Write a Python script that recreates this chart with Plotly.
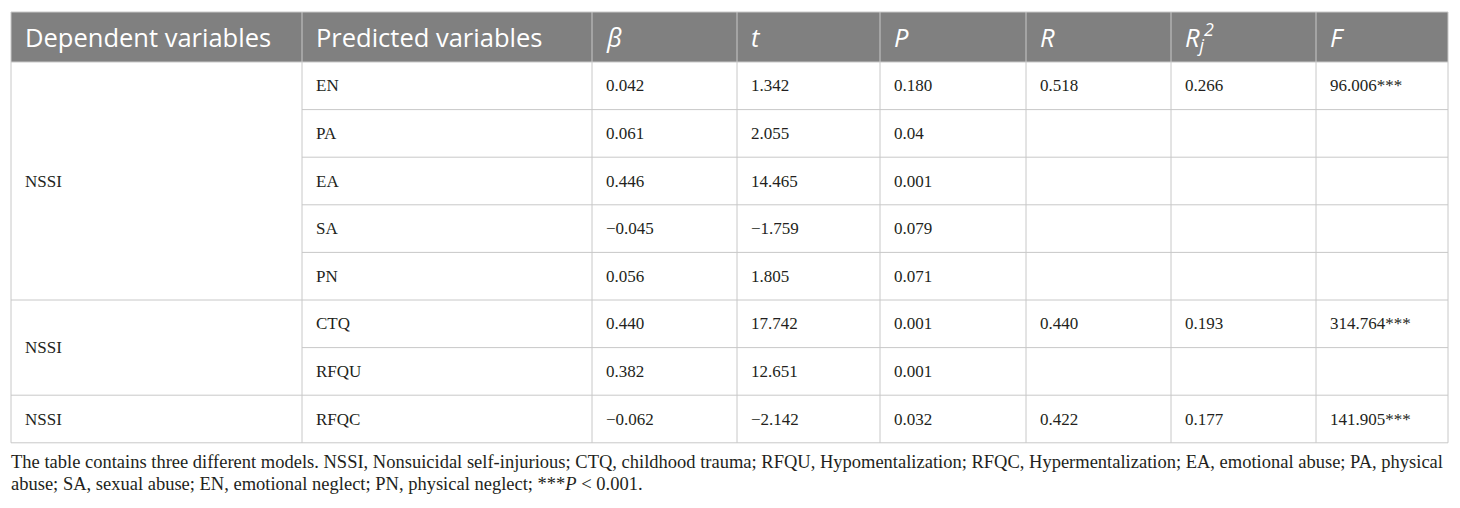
import plotly.graph_objects as go

# column headers
headers = ["Dependent variables", "Predicted variables", "<i>β</i>", "<i>t</i>", "<i>P</i>",
           "<i>R</i>", "<i>R<sub>j</sub><sup>2</sup></i>", "<i>F</i>"]

# models: dependent variable and how many predictor rows each spans
dependents = ["NSSI", "NSSI", "NSSI"]
group_sizes = [5, 2, 1]

predictors = ["EN", "PA", "EA", "SA", "PN", "CTQ", "RFQU", "RFQC"]
beta = ["0.042", "0.061", "0.446", "\u22120.045", "0.056", "0.440", "0.382", "\u22120.062"]
t_vals = ["1.342", "2.055", "14.465", "\u22121.759", "1.805", "17.742", "12.651", "\u22122.142"]
p_vals = ["0.180", "0.04", "0.001", "0.079", "0.071", "0.001", "0.001", "0.032"]
r_vals = ["0.518", "", "", "", "", "0.440", "", "0.422"]
rj2_vals = ["0.266", "", "", "", "", "0.193", "", "0.177"]
f_vals = ["96.006***", "", "", "", "", "314.764***", "", "141.905***"]

footnote_lines = [
    "The table contains three different models. NSSI, Nonsuicidal self-injurious; CTQ, childhood trauma; "
    "RFQU, Hypomentalization; RFQC, Hypermentalization; EA, emotional abuse; PA, physical",
    "abuse; SA, sexual abuse; EN, emotional neglect; PN, physical neglect; ***<i>P</i> &lt; 0.001.",
]

# layout geometry (page pixels; the page body adds an 8px margin)
W, H, off = 1444, 492, 8
col_edges = [11, 302, 592, 737, 880, 1026, 1171, 1316, 1448]
top, head_h, row_h = 12, 50, 47.6
pad = 12
line_col = "#c8c8c8"
head_bg = "#808080"
body_font = dict(family="Liberation Serif", size=17, color="#231f20")
head_font = dict(family="Open Sans", size=25.5, color="white")
foot_font = dict(family="Liberation Serif", size=18.5, color="#231f20")

n_rows = len(predictors)
row_edges = [top + head_h + i * row_h for i in range(n_rows + 1)]
bottom = row_edges[-1]

fig = go.Figure()
shapes = []
annotations = []

# header background
shapes.append(dict(type="rect", x0=col_edges[0], x1=col_edges[-1], y0=top, y1=top + head_h,
                   fillcolor=head_bg, line=dict(width=0), layer="below"))

# horizontal lines (skip first column inside merged groups)
group_starts = [0]
for s in group_sizes:
    group_starts.append(group_starts[-1] + s)
for i, y in enumerate(row_edges):
    x0 = col_edges[0] if i in group_starts else col_edges[1]
    shapes.append(dict(type="line", x0=x0, x1=col_edges[-1], y0=y, y1=y,
                       line=dict(color=line_col, width=1)))
shapes.append(dict(type="line", x0=col_edges[0], x1=col_edges[-1], y0=top, y1=top,
                   line=dict(color=line_col, width=1)))

# vertical lines
for x in col_edges:
    shapes.append(dict(type="line", x0=x, x1=x, y0=top, y1=bottom,
                       line=dict(color=line_col, width=1)))

# header text
for j, h in enumerate(headers):
    annotations.append(dict(x=col_edges[j] + pad, y=top + head_h / 2, text=h, showarrow=False,
                            xanchor="left", yanchor="middle", font=head_font))

# dependent variable (merged cells)
for dep, start, size in zip(dependents, group_starts[:-1], group_sizes):
    yc = (row_edges[start] + row_edges[start + size]) / 2
    annotations.append(dict(x=col_edges[0] + pad, y=yc, text=dep, showarrow=False,
                            xanchor="left", yanchor="middle", font=body_font))

# body cells
columns = [predictors, beta, t_vals, p_vals, r_vals, rj2_vals, f_vals]
for j, col in enumerate(columns, start=1):
    for i, val in enumerate(col):
        if not val:
            continue
        yc = (row_edges[i] + row_edges[i + 1]) / 2
        annotations.append(dict(x=col_edges[j] + pad, y=yc, text=val, showarrow=False,
                                xanchor="left", yanchor="middle", font=body_font))

# footnote (anchor must stay inside the axis range)
for k, line in enumerate(footnote_lines):
    annotations.append(dict(x=off + 1, y=bottom + 19 + k * 22, text=line, showarrow=False,
                            xanchor="left", yanchor="middle", font=foot_font))

fig.update_layout(width=W, height=H, margin=dict(l=0, r=0, t=0, b=0),
                  paper_bgcolor="white", plot_bgcolor="white",
                  xaxis=dict(range=[off, off + W], visible=False, fixedrange=True),
                  yaxis=dict(range=[off + H, off], visible=False, fixedrange=True),
                  shapes=shapes, annotations=annotations, showlegend=False)

fig.write_html("out.html")
